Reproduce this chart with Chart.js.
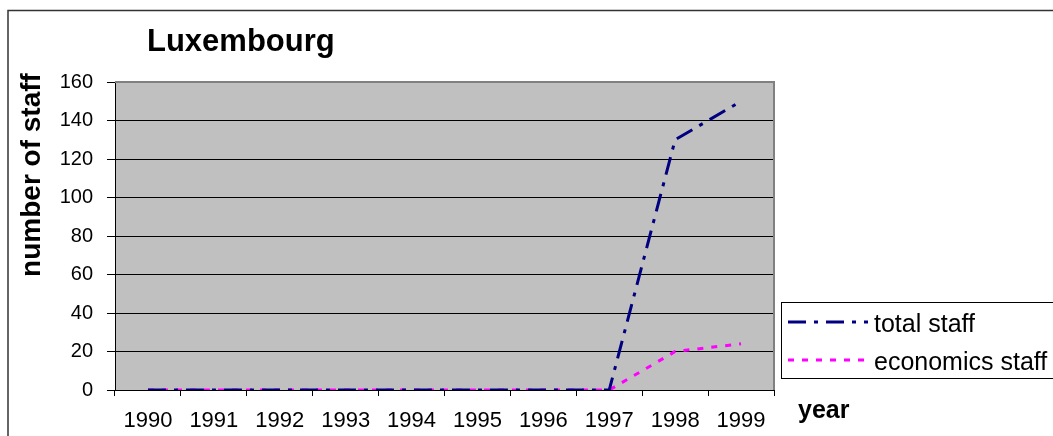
<!DOCTYPE html>
<html>
<head>
<meta charset="utf-8">
<script src="https://cdn.jsdelivr.net/npm/chart.js@4.4.1/dist/chart.umd.min.js"></script>
<style>
  html, body { margin: 0; padding: 0; background: #fff; }
  #wrap { width: 1053px; height: 436px; position: relative; overflow: hidden; }
</style>
</head>
<body>
<div id="wrap"><canvas id="c" width="1053" height="436"></canvas></div>
<script>
const chartTitle = 'Luxembourg';
const yAxisTitle = 'number of staff';
const xAxisTitle = 'year';
const years = ['1990', '1991', '1992', '1993', '1994', '1995', '1996', '1997', '1998', '1999'];
const totalStaff = [0, 0, 0, 0, 0, 0, 0, 0, 130, 150];
const economicsStaff = [0, 0, 0, 0, 0, 0, 0, 0, 20, 24];
const seriesNames = ['total staff', 'economics staff'];

const FONT = "'Liberation Sans', Arial, Helvetica, sans-serif";

const decorPlugin = {
  id: 'decor',
  beforeDraw(chart) {
    const ctx = chart.ctx;
    const a = chart.chartArea;
    ctx.save();
    ctx.fillStyle = '#ffffff';
    ctx.fillRect(0, 0, chart.width, chart.height);
    // outer frame
    ctx.strokeStyle = '#333333';
    ctx.lineWidth = 1.5;
    ctx.strokeRect(8, 10.5, 1200, 600);
    // plot background
    ctx.fillStyle = '#c0c0c0';
    ctx.fillRect(a.left, a.top, a.right - a.left, a.bottom - a.top);
    ctx.restore();
  },
  beforeDatasetsDraw(chart) {
    const ctx = chart.ctx;
    const a = chart.chartArea;
    ctx.save();
    ctx.strokeStyle = '#808080';
    ctx.lineWidth = 2;
    ctx.beginPath();
    ctx.moveTo(a.left, a.top);
    ctx.lineTo(a.right, a.top);
    ctx.lineTo(a.right, a.bottom);
    ctx.stroke();
    ctx.restore();
  },
  afterDraw(chart) {
    const ctx = chart.ctx;
    ctx.save();
    ctx.fillStyle = '#000';
    // chart title
    ctx.font = 'bold 31px ' + FONT;
    ctx.textAlign = 'left';
    ctx.textBaseline = 'alphabetic';
    ctx.fillText(chartTitle, 147, 51);
    // x axis title
    ctx.font = 'bold 25px ' + FONT;
    ctx.fillText(xAxisTitle, 798, 418);
    // y axis title
    ctx.save();
    ctx.translate(40, 175);
    ctx.rotate(-Math.PI / 2);
    ctx.font = 'bold 28px ' + FONT;
    ctx.textAlign = 'center';
    ctx.fillText(yAxisTitle, 0, 0);
    ctx.restore();
    // legend
    ctx.strokeStyle = '#000';
    ctx.lineWidth = 1;
    ctx.strokeRect(781.5, 302.5, 400, 76);
    const rows = [322, 360];
    const bases = [331.5, 369.5];
    chart.data.datasets.forEach((ds, i) => {
      ctx.save();
      ctx.strokeStyle = ds.borderColor;
      ctx.lineWidth = ds.borderWidth;
      ctx.setLineDash(ds.borderDash || []);
      ctx.beginPath();
      ctx.moveTo(788, rows[i]);
      ctx.lineTo(868, rows[i]);
      ctx.stroke();
      ctx.restore();
      ctx.font = '25px ' + FONT;
      ctx.textAlign = 'left';
      ctx.textBaseline = 'alphabetic';
      ctx.fillStyle = '#000';
      ctx.fillText(ds.label, 874, bases[i]);
    });
    ctx.restore();
  }
};

new Chart(document.getElementById('c'), {
  type: 'line',
  data: {
    labels: years,
    datasets: [
      {
        label: seriesNames[0],
        data: totalStaff,
        borderColor: '#000080',
        borderWidth: 3,
        borderDash: [18, 8, 4, 8],
        pointRadius: 0,
        tension: 0,
        fill: false
      },
      {
        label: seriesNames[1],
        data: economicsStaff,
        borderColor: '#ff00ff',
        borderWidth: 3,
        borderDash: [6, 8],
        pointRadius: 0,
        tension: 0,
        fill: false
      }
    ]
  },
  options: {
    responsive: false,
    animation: false,
    devicePixelRatio: 1,
    layout: { padding: { left: 0, top: 82, right: 279, bottom: 0 } },
    plugins: {
      legend: { display: false },
      title: { display: false },
      tooltip: { enabled: false }
    },
    scales: {
      x: {
        type: 'category',
        offset: true,
        afterFit(s) { s.height = 46; },
        grid: {
          offset: true,
          drawOnChartArea: false,
          drawTicks: true,
          tickLength: 6,
          tickColor: '#000',
          color: '#000'
        },
        border: { color: '#000', width: 1 },
        ticks: {
          color: '#000',
          font: { family: FONT, size: 22 },
          padding: 12,
          maxRotation: 0,
          autoSkip: false
        }
      },
      y: {
        min: 0,
        max: 160,
        afterFit(s) { s.width = 115; },
        grid: {
          color: (c) => (c.tick && c.tick.value === 160 ? '#808080' : '#000'),
          tickColor: '#000',
          tickLength: 8,
          lineWidth: 1
        },
        border: { color: '#000', width: 1 },
        ticks: {
          stepSize: 20,
          color: '#000',
          font: { family: FONT, size: 20 },
          padding: 14
        }
      }
    }
  },
  plugins: [decorPlugin]
});
</script>
</body>
</html>
